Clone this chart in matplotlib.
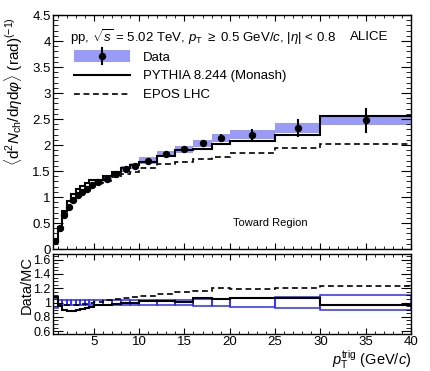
import numpy as np
import matplotlib
matplotlib.use('Agg')
import matplotlib.pyplot as plt
from matplotlib.patches import Rectangle
from matplotlib.lines import Line2D
from matplotlib.legend_handler import HandlerBase
from matplotlib.ticker import MultipleLocator, FormatStrFormatter

plt.rcParams['font.family'] = ['Liberation Sans', 'DejaVu Sans']
plt.rcParams['mathtext.fontset'] = 'custom'
plt.rcParams['mathtext.rm'] = 'Liberation Sans'
plt.rcParams['mathtext.it'] = 'Liberation Sans:italic'

# bin edges in pT trig (GeV/c)
edges = [0.5, 1, 1.5, 2, 2.5, 3, 3.5, 4, 4.5, 5, 6, 7, 8, 9, 10, 12, 14, 16, 18, 20, 25, 30, 40]

# measured yield, toward region
data = [0.15, 0.41, 0.65, 0.81, 0.94, 1.04, 1.10, 1.16, 1.23, 1.28, 1.35, 1.45,
        1.54, 1.60, 1.70, 1.83, 1.92, 2.03, 2.13, 2.20, 2.33, 2.48]
data_stat = [0.003, 0.004, 0.005, 0.005, 0.006, 0.006, 0.007, 0.008, 0.009, 0.01, 0.012, 0.014,
             0.016, 0.018, 0.02, 0.03, 0.04, 0.06, 0.08, 0.10, 0.17, 0.24]
data_sys = [0.01, 0.015, 0.02, 0.025, 0.03, 0.03, 0.035, 0.035, 0.04, 0.04, 0.045, 0.05,
            0.05, 0.055, 0.06, 0.06, 0.065, 0.07, 0.075, 0.08, 0.09, 0.09]

# MC predictions
pythia = [0.14, 0.43, 0.73, 0.92, 1.06, 1.16, 1.21, 1.26, 1.32, 1.33, 1.40, 1.48,
          1.56, 1.62, 1.67, 1.78, 1.90, 1.92, 2.02, 2.07, 2.19, 2.56]
epos = [0.14, 0.42, 0.67, 0.835, 0.97, 1.07, 1.12, 1.18, 1.24, 1.27, 1.30, 1.38,
        1.44, 1.48, 1.56, 1.63, 1.68, 1.74, 1.76, 1.85, 1.94, 2.02]

edges = np.array(edges)
data = np.array(data)
data_stat = np.array(data_stat)
data_sys = np.array(data_sys)
pythia = np.array(pythia)
epos = np.array(epos)
centers = 0.5 * (edges[:-1] + edges[1:])
widths = np.diff(edges)

band_col = '#9a9af7'
box_col = '#2b2bff'
dash = (0, (3.5, 2.2))


class DataHandler(HandlerBase):
    # band box with marker + vertical error bar in the middle
    def create_artists(self, legend, orig, xd, yd, width, height, fontsize, trans):
        r = Rectangle((xd, yd - 0.15 * height), width, 1.3 * height, facecolor=band_col,
                      edgecolor='none', transform=trans)
        xc = xd + width / 2
        v = Line2D([xc, xc], [yd - 0.35 * height, yd + 1.35 * height], color='k', lw=1.5,
                   transform=trans)
        m = Line2D([xc], [yd + height / 2], marker='o', markersize=4.3, color='k',
                   linestyle='none', transform=trans)
        return [r, v, m]


fig = plt.figure(figsize=(4.31, 3.71), dpi=100)
W, H = 431, 371
ax = fig.add_axes([53 / W, 1 - 249 / H, 358 / W, 234 / H])
axr = fig.add_axes([53 / W, 1 - 334 / H, 358 / W, 80 / H])

# top panel
ax.bar(edges[:-1], 2 * data_sys, width=widths, bottom=data - data_sys, align='edge',
       color=band_col, linewidth=0)
ax.stairs(pythia, edges, color='k', linewidth=1.5, baseline=None)
ax.stairs(epos, edges, color='k', linewidth=1.2, linestyle=dash, baseline=None)
ax.errorbar(centers, data, yerr=data_stat, fmt='o', color='k', markersize=4.3,
            elinewidth=1.5, capsize=0)

ax.set_xlim(0.5, 40)
ax.set_ylim(0, 4.5)
ax.yaxis.set_major_locator(MultipleLocator(0.5))
ax.yaxis.set_minor_locator(MultipleLocator(0.1))
ax.xaxis.set_major_locator(MultipleLocator(5))
ax.xaxis.set_minor_locator(MultipleLocator(1))
ax.yaxis.set_major_formatter(FormatStrFormatter('%g'))
ax.tick_params(axis='x', labelbottom=False)

ax.text(0.047, 0.905, r'pp, $\sqrt{s}$ = 5.02 TeV, $p_{\mathrm{T}}$ $\geq$ 0.5 GeV/$c$, |$\eta$| < 0.8',
        transform=ax.transAxes, fontsize=9.5, va='center', ha='left')
ax.text(0.83, 0.905, 'ALICE', transform=ax.transAxes, fontsize=9.5, va='center', ha='left')
ax.text(0.502, 0.11, 'Toward Region', transform=ax.transAxes, fontsize=8, va='center', ha='left')

h_py = Line2D([], [], color='k', linewidth=1.5)
h_ep = Line2D([], [], color='k', linewidth=1.2, linestyle=dash)
ax.legend([Rectangle((0, 0), 1, 1), h_py, h_ep],
          ['Data', 'PYTHIA 8.244 (Monash)', 'EPOS LHC'],
          handler_map={Rectangle: DataHandler()},
          loc='upper left', bbox_to_anchor=(0.06, 0.845), frameon=False, fontsize=9.5,
          handlelength=4.2, handletextpad=1.0, labelspacing=0.5, borderpad=0,
          borderaxespad=0, handleheight=0.7)

# ratio panel
rel = np.sqrt(data_stat ** 2 + data_sys ** 2) / data
axr.bar(edges[:-1], 2 * rel, width=widths, bottom=1 - rel, align='edge',
        fill=False, edgecolor=box_col, linewidth=1.1)
axr.stairs(data / pythia, edges, color='k', linewidth=1.5, baseline=None)
axr.stairs(data / epos, edges, color='k', linewidth=1.2, linestyle=dash, baseline=None)

axr.set_xlim(0.5, 40)
axr.set_ylim(0.56, 1.68)
axr.yaxis.set_major_locator(MultipleLocator(0.2))
axr.yaxis.set_minor_locator(MultipleLocator(0.05))
axr.xaxis.set_minor_locator(MultipleLocator(1))
axr.yaxis.set_major_formatter(FormatStrFormatter('%g'))
axr.set_xticks([5, 10, 15, 20, 25, 30, 35, 40])

for a in (ax, axr):
    a.tick_params(which='both', direction='in', top=True, right=True, labelsize=9.5, pad=1.5)
    a.tick_params(axis='y', which='major', length=7)
    a.tick_params(axis='y', which='minor', length=3.5)
    a.tick_params(axis='x', which='major', length=4.5)
    a.tick_params(axis='x', which='minor', length=2.2)
    for s in a.spines.values():
        s.set_linewidth(1.0)
axr.tick_params(axis='y', labelsize=9)

fig.text(14 / W, 1 - 17 / H, r'$\langle\mathrm{d}^{2}N_{\mathrm{ch}}/\mathrm{d}\eta\mathrm{d}\varphi\rangle$ (rad)$^{(-1)}$',
         rotation=90, ha='center', va='top', fontsize=11)
fig.text(27 / W, 1 - 256 / H, 'Data/MC', rotation=90, ha='center', va='top', fontsize=10.5)
fig.text(411 / W, 1 - 366 / H, r'$p_{\mathrm{T}}^{\mathrm{trig}}$ (GeV/$c$)', ha='right', va='baseline',
         fontsize=10.5)

fig.savefig('out.png', dpi=100)
